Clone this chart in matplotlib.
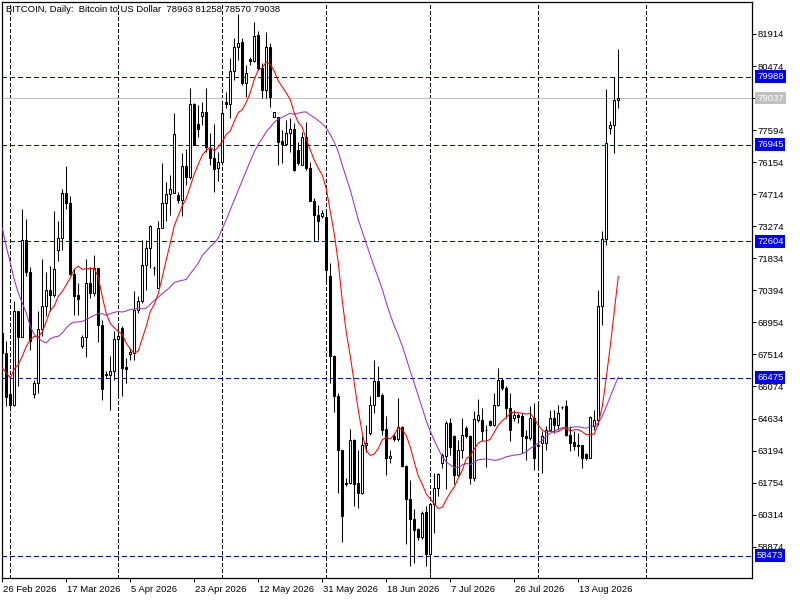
import numpy as np
import pandas as pd
import matplotlib
matplotlib.use("Agg")
import matplotlib.pyplot as plt
import matplotlib.transforms as mtransforms

plt.rcParams['font.family'] = ['Liberation Sans', 'DejaVu Sans']
plt.rcParams['lines.scale_dashes'] = False

#-----data-----#
opens = [68477, 67579, 65739, 65230, 69480, 68298, 72667, 71215, 65739, 66233,
         68657, 69704, 70422, 70198, 72218, 72742, 74762, 74313, 71126, 70198,
         67879, 68283, 70722, 70273, 71395, 68851, 66607, 66606, 66756, 68208,
         68701, 66936, 67534, 67579, 69524, 69898, 71544, 72293, 71400, 70497,
         73190, 74312, 74731, 74761, 74687, 74432, 75988, 75510, 78756, 77874,
         78248, 78397, 76736, 76332, 75884, 76183, 78877, 78787, 80249, 81346,
         81540, 79700, 80792, 80702, 81869, 80373, 79400, 81346, 78203, 78203,
         77111, 76961, 77455, 77650, 76707, 76034, 77306, 75884, 74418, 73760,
         73715, 73700, 71050, 67459, 65664, 63240, 61710, 61714, 63689, 61714,
         61294, 63434, 63988, 65260, 66307, 65709, 64167, 62866, 63838, 63718,
         64257, 62521, 61025, 60097, 59649, 59319, 60427, 58527, 60771, 61519,
         62641, 62941, 64437, 63838, 62118, 63240, 64213, 63868, 61968, 64587,
         64587, 64138, 64542, 64362, 65260, 66352, 66008, 65110, 64662, 64811,
         64736, 63868, 63764, 64662, 63465, 63540, 63540, 64138, 64662, 64362,
         65140, 65185, 63913, 63569, 63465, 63465, 63045, 62866, 64318, 64587,
         69674, 72697, 77680, 77814, 78963]
highs = [68900, 68100, 66532, 69899, 69480, 74043, 73595, 71440, 66352, 69480,
         71814, 71215, 71470, 73939, 73490, 74941, 75989, 74612, 71365, 70722,
         68403, 71814, 71425, 71994, 71400, 69076, 66757, 67430, 68552, 68926,
         68780, 67355, 67803, 70347, 70123, 72667, 72667, 73340, 71469, 73490,
         76108, 75285, 75584, 78352, 74836, 76557, 76736, 79475, 78801, 78726,
         78846, 79475, 77455, 77859, 76632, 78727, 79326, 80825, 81752, 82797,
         81720, 80523, 80897, 82468, 82049, 80598, 82019, 81495, 78428, 78203,
         77605, 78054, 78129, 77904, 77081, 77531, 77979, 76183, 74538, 74238,
         74014, 74000, 71619, 67504, 65783, 63240, 61968, 64167, 63718, 63240,
         63838, 64362, 65634, 67280, 66980, 65783, 64736, 63240, 63988, 65559,
         64287, 62566, 61893, 60546, 59723, 60472, 60696, 60846, 62192, 62193,
         63090, 64512, 64662, 63913, 63689, 64662, 64288, 63913, 64961, 65514,
         65110, 64362, 64587, 65784, 66906, 66457, 66083, 65784, 65036, 64886,
         64886, 64138, 65185, 65335, 65335, 64063, 64288, 65006, 65036, 65260,
         65215, 65454, 64288, 64063, 63988, 63465, 63090, 64736, 65036, 70423,
         73041, 79430, 78024, 79999, 81258]
lows = [67300, 65185, 64961, 65185, 66083, 68298, 71021, 67729, 65560, 65784,
        68328, 69225, 69450, 70093, 71724, 72218, 74043, 71100, 69300, 69300,
        67804, 67385, 70049, 70123, 68058, 65485, 66457, 65035, 66382, 65634,
        65634, 66232, 67280, 67280, 69374, 69823, 70422, 71395, 71095, 70497,
        73190, 73490, 73789, 74761, 74300, 73714, 75135, 75400, 76931, 77305,
        77829, 76632, 76033, 74836, 75286, 76034, 78577, 78158, 79849, 80747,
        79625, 79101, 80523, 80672, 80298, 79026, 79026, 78652, 78203, 76034,
        76109, 76931, 76632, 75735, 76034, 76034, 75809, 74388, 72592, 72667,
        73640, 70800, 66232, 64915, 61294, 59080, 61594, 61669, 60696, 60621,
        61220, 63120, 63913, 64885, 65634, 63913, 62117, 62641, 63614, 63614,
        62450, 58975, 58003, 58152, 59170, 59200, 58003, 57628, 59499, 61145,
        62417, 61450, 63016, 61669, 62043, 62866, 63764, 61669, 61818, 64467,
        63614, 62462, 64288, 64288, 65185, 65933, 64662, 63614, 64512, 64437,
        63090, 62791, 63689, 62342, 62417, 62193, 63240, 64063, 63988, 64138,
        65066, 63868, 63165, 63240, 62940, 62417, 62791, 62866, 64138, 64362,
        68851, 72443, 77425, 76587, 78570]
closes = [67579, 65604, 65230, 69480, 68298, 72667, 71215, 68104, 66233, 68657,
          69704, 70422, 70198, 71365, 72742, 74762, 74313, 71126, 70153, 70004,
          68283, 70722, 70273, 71395, 68851, 65963, 66650, 66756, 68208, 68327,
          66906, 66861, 67609, 69524, 69898, 71544, 72293, 73295, 71395, 73190,
          74312, 74731, 74941, 77410, 74432, 75988, 75510, 78756, 76931, 77634,
          78397, 76856, 76332, 75839, 76183, 78353, 78787, 80249, 81346, 81495,
          79700, 80149, 80702, 81824, 80373, 79400, 81346, 79101, 78398, 77081,
          76961, 77455, 77650, 75809, 76100, 77306, 75884, 74418, 73760, 73490,
          73864, 71300, 67429, 65634, 63210, 60247, 61740, 63689, 61669, 61294,
          63464, 63539, 65260, 66307, 65664, 64137, 62866, 62970, 63718, 64257,
          62491, 60995, 60127, 59619, 59319, 60397, 58527, 60771, 61519, 62163,
          62986, 64437, 63360, 62118, 63240, 63913, 63838, 61968, 64617, 64811,
          64063, 64138, 64362, 65260, 66352, 66008, 65110, 64138, 64811, 64707,
          63838, 63764, 64662, 62866, 63390, 63840, 64138, 64662, 64362, 64886,
          65150, 63913, 63540, 63420, 63420, 62866, 62866, 64707, 64587, 69674,
          72697, 77006, 77814, 78951, 79038]

# moving average values before enough bars are on screen
sma10_lead = [66906, 66682, 66457, 66861, 67056, 67430, 67879, 68178, 68328]
sma30_lead = [73191, 72368, 71620, 70871, 70273, 69824, 69375, 68776, 68402, 68253,
              68103, 68028, 68223, 68298, 68328, 68477, 68702, 68881, 68971, 68971,
              69001, 69076, 69181, 69270, 69345, 69345, 69270, 69345, 69405]

date_pos = [0, 16, 32, 48, 64, 80, 96, 112, 128, 144]
date_labels = ["26 Feb 2026", "17 Mar 2026", "5 Apr 2026", "23 Apr 2026", "12 May 2026",
               "31 May 2026", "18 Jun 2026", "7 Jul 2026", "26 Jul 2026", "13 Aug 2026"]
vgrid_pos = [2, 29, 55, 81, 107, 134, 161]
hlines = [79988, 76945, 72604, 66475, 58473]
bid = 79037
price_ticks = list(range(58874, 81915, 1440))
title = "BITCOIN, Daily:  Bitcoin to US Dollar  78963 81258 78570 79038"
#-----data-----#

df = pd.DataFrame({"o": opens, "h": highs, "l": lows, "c": closes})
x = np.arange(len(df))
sma10 = df["c"].rolling(10).mean().to_numpy()
sma10[:9] = sma10_lead
sma30 = df["c"].rolling(30).mean().to_numpy()
sma30[:29] = sma30_lead

fig = plt.figure(figsize=(8, 6), dpi=100)
ax = fig.add_axes([2/800, 22/600, 750/800, 576/600])
ax.set_xlim(-0.075, 187.425)
ax.set_ylim(57467, 83352)

for g in vgrid_pos:
    ax.axvline(g, color="black", lw=0.72, linestyle=(0, (2.2, 1.5)),
               antialiased=False, zorder=0.5)
for h in hlines:
    ax.axhline(h, color="#0000ff", lw=0.72, linestyle=(0, (2.9, 2.2)),
               antialiased=False, zorder=1)
ax.axhline(bid, color="#c0c0c0", lw=0.72, antialiased=False, zorder=1)

# candles
ax.vlines(x, df["l"], df["h"], color="black", lw=0.75, zorder=2)
up = df["c"] >= df["o"]
bottom = np.minimum(df["o"], df["c"])
height = np.abs(df["c"] - df["o"])
ax.bar(x, height, bottom=bottom, width=0.5,
       color=np.where(up, "white", "black"), edgecolor="black", linewidth=0.75, zorder=3)

ax.plot(x, sma30, color="#9932cc", lw=0.75, zorder=4)
ax.plot(x, sma10, color="#ff0000", lw=0.75, zorder=4)

# axes
for s in ax.spines.values():
    s.set_linewidth(0.9)
ax.yaxis.tick_right()
ax.set_yticks(price_ticks)
ax.set_yticklabels([str(p) for p in price_ticks])
ax.tick_params(axis="y", length=3, width=0.75, pad=0.8, labelsize=6.8)
ax.set_xticks(date_pos)
ax.set_xticklabels(date_labels)
ax.tick_params(axis="x", length=3, width=0.75, pad=2.0, labelsize=6.8)
for lbl in ax.get_xticklabels():
    lbl.set_ha("left")
    lbl.set_transform(lbl.get_transform() + mtransforms.ScaledTranslation(1/100, 0, fig.dpi_scale_trans))

trans = mtransforms.blended_transform_factory(ax.transAxes, ax.transData)
off = mtransforms.ScaledTranslation(5/100, 0, fig.dpi_scale_trans)
for h in hlines:
    ax.text(1.0, h, str(h), transform=trans + off, color="white", fontsize=6.8,
            va="center", ha="left", zorder=10, clip_on=False,
            bbox=dict(boxstyle="square,pad=0.2", fc="#0000ff", ec="none"))
ax.text(1.0, bid, str(bid), transform=trans + off, color="white", fontsize=6.8,
        va="center", ha="left", zorder=10, clip_on=False,
        bbox=dict(boxstyle="square,pad=0.2", fc="#c0c0c0", ec="none"))

fig.text(6/800, 1 - 10/600, title, fontsize=6.8, va="center", ha="left")

fig.savefig("out.png", dpi=100)
